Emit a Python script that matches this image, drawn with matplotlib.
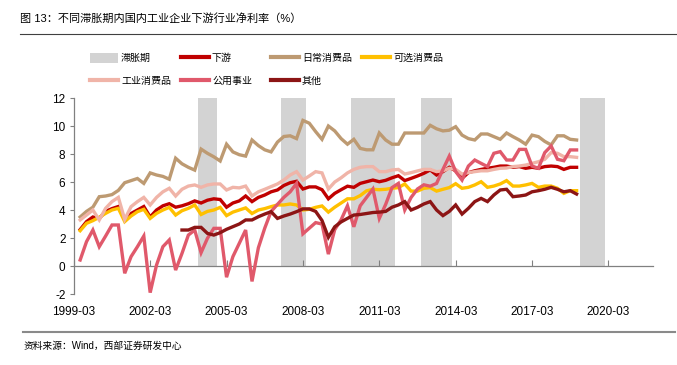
import numpy as np
import pandas as pd
import matplotlib
matplotlib.use('Agg')
import matplotlib.pyplot as plt
from matplotlib.lines import Line2D
from matplotlib.patches import Patch

plt.rcParams['font.family'] = ['Liberation Sans', 'Noto Sans CJK SC']
plt.rcParams['axes.unicode_minus'] = False

# quarterly data, 1999Q2 - 2018Q4 (其他 starts 2003Q2)
first_q = pd.Period('1999Q1', freq='Q')
data_start = pd.Period('1999Q2', freq='Q')
other_start = pd.Period('2003Q2', freq='Q')

downstream = [2.6, 3.17, 3.5, 3.4, 3.9, 4.1, 4.25, 3.35, 3.75, 4.0, 4.25, 3.5, 4.0, 4.3, 4.45, 4.2, 4.3, 4.45, 4.65, 4.5,
              4.7, 4.8, 4.75, 4.2, 4.5, 4.65, 5.0, 4.6, 4.9, 5.07, 5.3, 5.43, 5.75, 5.95, 6.05, 5.5, 5.65, 5.65, 5.45, 4.8,
              5.19, 5.45, 5.7, 5.62, 5.9, 6.02, 6.14, 6.02, 6.12, 6.3, 6.45, 6.1, 6.26, 6.43, 6.62, 6.86, 6.5, 6.74, 7.05, 6.8,
              6.26, 6.67, 6.8, 6.9, 6.98, 7.05, 7.14, 7.14, 7.05, 7.1, 6.98, 7.05, 6.98, 7.1, 7.14, 7.1, 6.9, 7.05, 7.05]
staples = [3.5, 3.9, 4.2, 4.95, 5.0, 5.1, 5.4, 5.95, 6.1, 6.25, 5.9, 6.65, 6.5, 6.4, 6.2, 7.7, 7.3, 7.05, 6.85, 8.35,
           8.05, 7.8, 7.5, 8.7, 8.15, 7.95, 7.85, 9.0, 8.6, 8.3, 8.15, 8.85, 9.25, 9.3, 9.1, 10.4, 10.2, 9.6, 9.05, 10.0,
           9.65, 9.1, 8.7, 9.05, 8.4, 8.3, 8.3, 9.5, 9.0, 8.7, 8.7, 9.5, 9.5, 9.5, 9.5, 10.05, 9.8, 9.65, 9.7, 9.95,
           9.35, 9.1, 9.0, 9.43, 9.43, 9.24, 9.05, 9.5, 9.24, 9.0, 8.7, 9.35, 9.24, 8.9, 8.65, 9.3, 9.3, 9.05, 9.0]
discretionary = [2.52, 3.05, 3.24, 3.48, 3.76, 4.0, 4.12, 3.17, 3.57, 3.88, 4.05, 3.4, 3.76, 4.0, 4.19, 3.64, 3.95, 4.12, 4.36, 3.68,
                 3.9, 4.0, 4.19, 3.6, 3.85, 4.0, 4.15, 3.75, 4.0, 4.1, 4.24, 4.36, 4.36, 4.43, 4.36, 4.0, 4.05, 4.19, 4.29, 3.85,
                 4.2, 4.5, 4.8, 4.8, 5.03, 5.37, 5.48, 5.45, 5.48, 5.55, 5.6, 5.86, 5.35, 5.35, 5.55, 5.6, 5.35, 5.48, 5.6, 5.88,
                 5.55, 5.62, 5.79, 6.02, 5.62, 5.71, 5.86, 6.1, 5.71, 5.71, 5.79, 5.9, 5.62, 5.71, 5.71, 5.55, 5.19, 5.38, 5.38]
industrial = [3.29, 3.64, 4.0, 3.29, 4.12, 4.6, 4.9, 3.33, 4.24, 4.6, 4.9, 4.36, 4.9, 5.3, 5.55, 5.0, 5.48, 5.71, 5.79, 5.62,
              5.79, 5.86, 5.86, 5.43, 5.62, 5.58, 5.71, 5.0, 5.3, 5.48, 5.67, 5.86, 6.14, 6.5, 6.74, 6.14, 6.43, 6.74, 6.65, 5.5,
              6.0, 6.3, 6.65, 6.9, 7.05, 7.1, 7.1, 6.74, 6.74, 6.86, 6.9, 6.57, 6.67, 6.79, 6.9, 6.9, 6.74, 6.8, 6.98, 6.9,
              6.57, 6.67, 6.74, 6.8, 6.8, 6.9, 6.98, 7.0, 7.1, 7.14, 7.21, 7.33, 7.45, 7.62, 8.1, 8.05, 7.81, 7.81, 7.76]
utilities = [0.43, 1.74, 2.57, 1.38, 2.14, 2.93, 2.93, -0.52, 0.67, 1.38, 2.14, -1.9, 0.07, 1.38, 1.86, -0.29, 0.9, 2.21, 2.57, 0.95,
             1.98, 2.69, 2.69, -0.8, 0.67, 1.62, 2.57, -1.1, 1.3, 2.7, 3.9, 4.4, 4.9, 5.3, 5.9, 2.3, 2.7, 3.1, 3.0, 0.85,
             2.6, 3.3, 4.3, 2.8, 4.3, 4.9, 5.5, 3.4, 4.4, 5.6, 5.9, 4.0, 4.9, 5.5, 5.8, 5.7, 5.9, 6.9, 7.85, 6.75,
             6.14, 7.14, 7.57, 7.33, 7.1, 8.05, 8.17, 7.57, 7.57, 8.33, 8.33, 7.14, 6.98, 8.1, 8.57, 7.62, 7.52, 8.29, 8.29]
other = [2.57, 2.57, 2.76, 2.76, 2.33, 2.21, 2.38, 2.62, 2.81, 3.0, 3.29, 3.29, 3.52, 3.71, 3.88, 3.4, 3.57, 3.71, 3.88, 4.08,
         4.08, 3.9, 3.25, 2.05, 2.8, 3.15, 3.4, 3.64, 3.68, 3.75, 3.82, 3.85, 3.9, 4.2, 4.36, 4.6, 4.0, 4.19, 4.43, 4.6,
         4.0, 3.6, 3.9, 4.36, 3.71, 4.12, 4.6, 4.83, 4.6, 5.07, 5.43, 5.48, 4.95, 5.0, 5.07, 5.3, 5.38, 5.48, 5.62, 5.48,
         5.3, 5.38, 5.14]

# stagflation periods (first quarter, last quarter)
stag_periods = [('2004Q1', '2004Q3'), ('2007Q2', '2008Q1'), ('2010Q1', '2011Q3'),
                ('2012Q4', '2013Q4'), ('2019Q1', '2019Q4')]

tick_labels = ['1999-03', '2002-03', '2005-03', '2008-03', '2011-03', '2014-03', '2017-03', '2020-03']

series = [
    ('下游', downstream, data_start, '#C00000'),
    ('日常消费品', staples, data_start, '#BD9A72'),
    ('可选消费品', discretionary, data_start, '#FFC000'),
    ('工业消费品', industrial, data_start, '#F0B4A8'),
    ('公用事业', utilities, data_start, '#E0596B'),
    ('其他', other, other_start, '#8C1515'),
]


def q_index(p):
    return (pd.Period(p, freq='Q') - first_q).n


fig = plt.figure(figsize=(6.77, 3.65), dpi=100)
ax = fig.add_axes([0.109, 0.1945, 0.8555, 0.537])

# shaded stagflation quarters
stag_q = []
for a, b in stag_periods:
    stag_q += list(range(q_index(a), q_index(b) + 1))
ax.bar(stag_q, [12] * len(stag_q), width=1.0, color='#D3D3D3', zorder=1)

handles = {'滞胀期': Patch(facecolor='#D3D3D3', edgecolor='none')}
for name, vals, start, color in series:
    x = np.arange(len(vals)) + q_index(start)
    ax.plot(x, vals, color=color, lw=2.4, zorder=3, solid_joinstyle='miter')
    handles[name] = Line2D([], [], color=color, lw=3)

ax.set_xlim(0, 91)
ax.set_ylim(-2, 12)
ax.set_yticks(range(-2, 13, 2))
ax.set_xticks([q_index(t[:4] + 'Q1') for t in tick_labels])
ax.set_xticklabels(tick_labels)

for s in ['top', 'right']:
    ax.spines[s].set_visible(False)
ax.spines['bottom'].set_position(('data', 0))
for s in ['left', 'bottom']:
    ax.spines[s].set_color('#808080')
    ax.spines[s].set_linewidth(0.9)
ax.tick_params(axis='x', direction='in', length=4, color='#808080', pad=29, labelsize=8.5)
ax.tick_params(axis='y', direction='out', length=3, color='#808080', pad=3, labelsize=8.5)

# legend, four columns
cols = [['滞胀期', '工业消费品'], ['下游', '公用事业'], ['日常消费品', '其他'], ['可选消费品']]
col_x = [90, 181, 271, 362]
for names, cx in zip(cols, col_x):
    fig.legend([handles[n] for n in names], names, loc='upper left',
               bbox_to_anchor=(cx / 677, 0.855), frameon=False, fontsize=7.2,
               handlelength=2.8, handleheight=1.1, handletextpad=0.3,
               labelspacing=1.3, borderpad=0, borderaxespad=0)

fig.text(0.03, 0.948, '图 13：不同滞胀期内国内工业企业下游行业净利率（%）', fontsize=8, va='center')
fig.add_artist(Line2D([0.03, 1.0], [0.907, 0.907], color='#404040', lw=0.8, transform=fig.transFigure))
fig.add_artist(Line2D([0.034, 0.997], [0.0904, 0.0904], color='#8A8A8A', lw=1.5, transform=fig.transFigure))
fig.text(0.034, 0.052, '资料来源：Wind，西部证券研发中心', fontsize=7, va='center')

fig.savefig('out.png', dpi=100)
